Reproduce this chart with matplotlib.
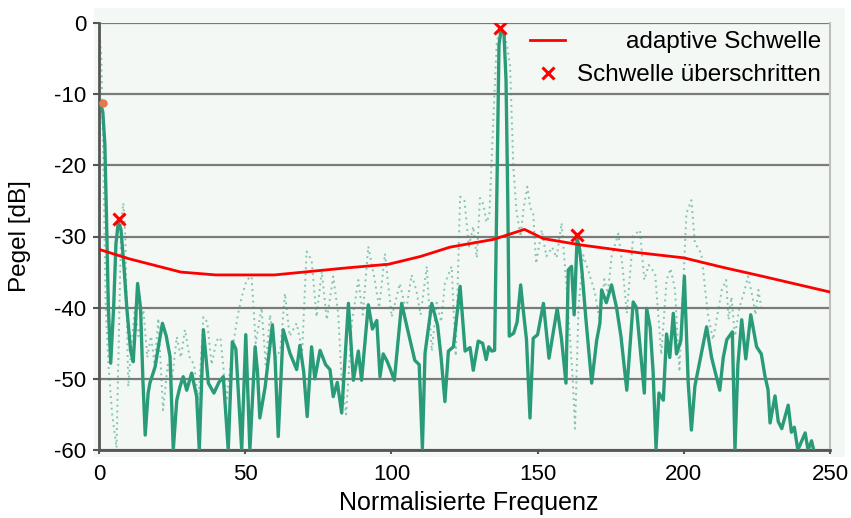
import matplotlib
matplotlib.use("Agg")
import matplotlib.pyplot as plt
from matplotlib.patches import Rectangle

plt.rcParams['font.family'] = ['Liberation Sans', 'DejaVu Sans']
plt.rcParams['axes.unicode_minus'] = False

# solid spectrum (frequency, level in dB)
solid_f = [0.5, 1.3, 2.0, 2.6, 3.2, 4.0, 5.0, 5.8, 6.6, 7.5, 8.5, 9.5, 10.8, 11.7, 12.5, 13.2, 14.2, 15.0, 15.8, 16.8,
           17.4, 19.2, 20.5, 21.7, 23, 24.3, 25.4, 26.6, 27.7, 28.8, 30, 31.7, 33.4, 34.3, 35.7, 37.4, 39.3, 41, 42.5, 44.2,
           45.6, 46.8, 48.8, 50.2, 51.6, 53.4, 54.2, 55, 56.8, 58, 59.3, 60.2, 61.3, 63, 65.3, 67.6, 68.7, 70, 71.2, 72.7,
           73.8, 75.6, 77.5, 79, 80.1, 81.5, 83, 85.3, 87, 88.7, 89.8, 92.1, 93.5, 95, 96.1, 97.2, 98.5, 99.5, 101, 103.5,
           105.5, 108, 109.5, 110.6, 111.5, 113.8, 115.8, 117, 118.3, 119.5, 121.2, 123.5, 125.2, 126.9, 128, 129.7, 131.2,
           132.4, 133.3, 134.3, 135.3, 136.2, 136.8, 137.5, 138.5, 139.2, 139.8, 140.3, 141.8, 143, 144.2, 145, 146.2,
           147.4, 148.5, 150, 152, 153.9, 156.7, 158.2, 159.7, 160.5, 161.6, 162.5, 163.5, 164.3, 165.2, 166.5, 168.5,
           170.2, 171.3, 171.9, 173.5, 175.3, 177, 178.5, 180.5, 182.7, 183.8, 186.5, 187.3, 188.5, 189.5, 190.5, 191.5,
           193, 194.1, 195.2, 196.4, 197.5, 199, 200.2, 201.5, 202.6, 203.8, 206, 207.8, 209.5, 212.3, 213.5, 214.7,
           216.6, 217.5, 218.5, 219.8, 221.2, 222.9, 224.9, 226.5, 227.8, 228.8, 229.5, 231.2, 232.3, 233.5, 235.7,
           236.8, 237.8, 239, 241.5, 242.5, 243.7, 244.4]
solid_db = [-11.3, -12.5, -17, -28, -40, -47.8, -40, -31, -28.0, -29, -34, -40, -46, -47.6, -42, -36.6, -40, -50, -57.9, -52,
            -50.6, -48.3, -45, -42.2, -44, -46.9, -60, -53, -51.1, -49.7, -51.6, -49.2, -52.5, -60, -43.1, -50.6, -52, -50.5, -49.7, -60,
            -44.8, -45.8, -60, -43.8, -60, -45.5, -49, -55.5, -51.2, -47, -42.4, -47, -58.1, -43.1, -46.4, -48.7, -45.3, -49, -55.3, -45.5,
            -50, -46, -48, -48.7, -52.5, -50.5, -54.8, -39.4, -50.2, -46.1, -50.2, -39.6, -43, -41.8, -49.7, -46.5, -47.5, -48.5, -50.2, -39.4,
            -43, -47.4, -48, -59.8, -46.4, -39.4, -42.5, -47, -53.2, -46.1, -45.5, -37, -46.1, -45.6, -48.8, -44.7, -45,
            -47.3, -45.5, -46.1, -46, -20, -3, -1.0, -1.5, -8, -25, -44, -43.6, -42, -36.8, -40, -44.5,
            -55.5, -44.3, -43.8, -39.4, -47.1, -40.1, -44.5, -50.6, -34.7, -34.2, -41, -30.3, -31.5, -35, -41.5, -50.6,
            -44.6, -42.2, -37.5, -39.3, -36.8, -40, -44, -51.6, -39.2, -40, -52, -40.1, -42.8, -49, -59.8, -52,
            -53, -43.7, -47, -40.8, -46.5, -44.6, -35.6, -50.5, -57.2, -51, -46.4, -42.7, -47, -51.6, -47, -44.5,
            -43.4, -60, -48, -41.7, -47.2, -41, -45.5, -46.5, -49.7, -51.5, -56.2, -52.4, -56, -57, -53.7,
            -57.5, -56.8, -60, -57.6, -60, -58.7, -60]

# dotted spectrum
dot_f = [0, 0.8, 1.5, 2.3, 3.2, 4.5, 6.0, 7.0, 7.6, 8.3, 9.0, 10.0, 11, 12.3, 13.5, 15.2, 16.5, 17.8, 19, 20.3, 21.9, 23.5,
         25, 26.6, 28, 29.4, 31, 32.5, 34, 35.7, 37, 38.5, 40.2, 41.5, 43.7, 45.5, 47.6, 48.8, 50.5, 52.2, 53.6, 55.6, 57,
         58.5, 60.5, 62, 63.6, 65.2, 67.6, 69.5, 71, 72.7, 74.4, 76.2, 77.9, 80.1, 81.8, 83, 84.5, 86.5, 88.7, 90.2, 92.1,
         94.3, 95.8, 97.8, 100.1, 102.9, 105, 106.9, 108.5, 110, 112.1, 113.8, 115.5, 117, 118.3, 120.6, 122, 123.5, 125,
         126.5, 128, 129.2, 130.3, 131.5, 132.5, 133.5, 134.9, 136, 137, 138, 139.5, 140.6, 141.7, 142.8, 144.2, 145.2,
         146.5, 147.5, 148.5, 149.5, 151.4, 153, 155, 156.5, 158.2, 159.5, 160.5, 162, 162.8, 164, 165.6, 167.5, 169.5,
         171.3, 172.8, 174, 175.3, 177.6, 179, 180.5, 182.7, 185, 186.5, 188, 190.2, 192.3, 194.1, 195.5, 197, 198.5,
         200.9, 202.6, 203.8, 206, 208.2, 210, 213, 214.5, 215.3, 216.3, 217.5, 219, 220.5, 222, 223.5, 224.5, 225.5, 226.5]
dot_db = [0, -5, -20, -40, -48, -55, -59.7, -40, -28, -25.3, -30, -51.1, -46, -39.9, -44, -40.3, -47, -44, -48, -41.5, -54.4, -48,
          -50, -44.1, -47, -43.1, -47, -48, -53.1, -41.3, -42, -48, -44.6, -44.2, -53.1, -46, -40.8, -38.5, -36.1, -35.6, -45, -40, -48,
          -41, -47, -46, -38, -44, -42.2, -46, -32.1, -33.3, -41.3, -34.9, -41.7, -35.6, -40.8, -50.2, -55, -42, -36.1, -41, -31.4,
          -36.1, -40, -32.4, -41.3, -36.6, -40.5, -35.4, -37.5, -41, -34.2, -46.1, -39.3, -42, -36.6, -34.2, -46.8, -24.4, -25,
          -31.4, -28.6, -33, -24.6, -25.5, -28, -27, -13.2, -3, -0.5, -1, -3, -6.1, -20.2, -26.5, -30, -26,
          -23, -26, -26.7, -33.8, -29.1, -32.8, -31.5, -33, -28.1, -35, -40.7, -50, -57, -40, -32.6, -35, -37.7,
          -42, -36, -38, -32.8, -29.6, -34, -40.8, -29.9, -29.1, -36.1, -34, -35.2, -46.6, -36.1, -34.5, -37.5, -49,
          -26.7, -24.9, -30.9, -32.4, -40.8, -44.5, -37.5, -36.1, -41.7, -38.5, -44, -40, -38, -35.6, -38.5, -41, -37.5, -40]

# adaptive threshold
thr_f = [0, 10, 28, 40, 60, 85, 99, 110, 120, 135, 145.5, 152, 165, 185, 200, 213, 227, 250]
thr_db = [-31.8, -33.1, -35.0, -35.4, -35.4, -34.4, -33.9, -32.8, -31.5, -30.4, -29.0, -30.3, -31.2, -32.3, -33.0, -34.3, -35.6, -37.8]

# points above threshold
hit_f = [6.7, 137.2, 163.4]
hit_db = [-27.6, -0.7, -29.8]

start_f = [1.2]
start_db = [-11.3]

green = '#2a9b78'
bg = '#f3f8f5'

fig = plt.figure(figsize=(8.51, 5.18), dpi=100)
fig.patches.append(Rectangle((94 / 851, 1 - 457 / 518), 751 / 851, 449 / 518,
                             transform=fig.transFigure, facecolor=bg, edgecolor='none', zorder=-5))
ax = fig.add_axes([99 / 851, 1 - 450 / 518, 731 / 851, 427 / 518])
ax.set_facecolor(bg)

ax.plot(dot_f, dot_db, color=green, lw=1.4, ls=(0, (1, 2)), alpha=0.55, zorder=2)
ax.plot(solid_f, solid_db, color=green, lw=2.4, zorder=3, solid_joinstyle='round')
ax.plot(thr_f, thr_db, color='red', lw=2.0, zorder=4, label='adaptive Schwelle')
ax.plot(start_f, start_db, 'o', color='#e8784a', ms=5, zorder=5)
ax.plot(hit_f, hit_db, 'x', color='red', ms=8, mew=2.2, ls='none', zorder=6, label='Schwelle überschritten')

ax.set_xlim(0, 250)
ax.set_ylim(-60, 0)
ax.set_xticks([0, 50, 100, 150, 200, 250])
ax.set_yticks([0, -10, -20, -30, -40, -50, -60])
ax.yaxis.grid(True, color='#7a7a7a', lw=1.6, zorder=1)
ax.set_axisbelow(True)

ax.spines['top'].set_visible(False)
ax.spines['right'].set_color('#bdbdbd')
ax.spines['right'].set_linewidth(1.5)
ax.spines['left'].set_color('#555555')
ax.spines['left'].set_linewidth(2)
ax.spines['bottom'].set_color('#555555')
ax.spines['bottom'].set_linewidth(2)

ax.tick_params(axis='both', labelsize=16, colors='black')
ax.tick_params(axis='y', length=4, width=1.5, color='#555555', pad=5)
ax.tick_params(axis='x', length=3, width=1.5, color='#555555', pad=7)

ax.set_xlabel('Normalisierte Frequenz', fontsize=18)
ax.xaxis.set_label_coords(0.506, -0.095)
ax.set_ylabel('Pegel [dB]', fontsize=17.5)
ax.yaxis.set_label_coords(-0.093, 0.5)

leg = ax.legend(loc='upper left', bbox_to_anchor=(530 / 851, 1 - 31 / 518), bbox_transform=fig.transFigure,
                frameon=False, fontsize=17.5, handlelength=1.45, handletextpad=0.5, labelspacing=0.46,
                borderpad=0, borderaxespad=0)

# right-align the legend labels like the original
fig.canvas.draw()
r = fig.canvas.get_renderer()
exts = [t.get_window_extent(r) for t in leg.get_texts()]
right = max(e.x1 for e in exts)
for t, e in zip(leg.get_texts(), exts):
    t.set_visible(False)
    fig.text(right / fig.dpi / fig.get_figwidth(), e.y0 / fig.dpi / fig.get_figheight(), t.get_text(),
             ha='right', va='bottom', fontsize=17.5, color='black')

fig.savefig('out.png', dpi=100)
